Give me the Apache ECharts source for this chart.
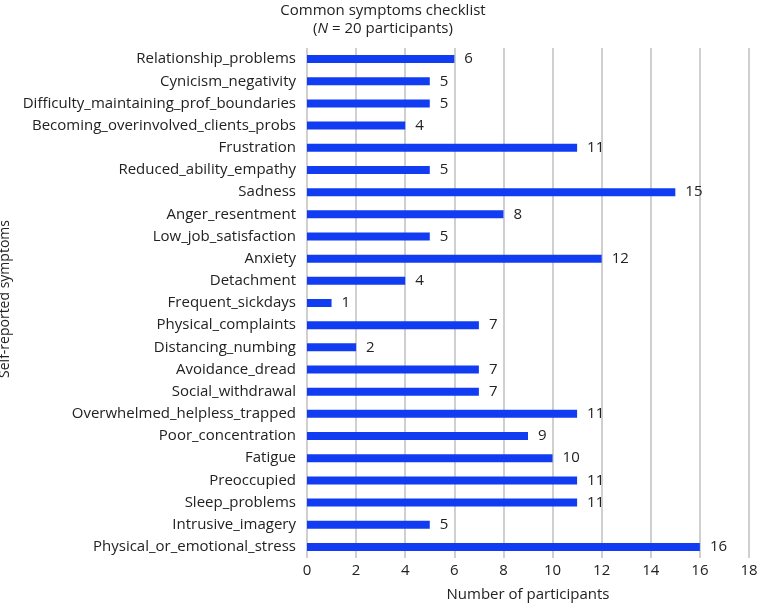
<!DOCTYPE html>
<html><head><meta charset="utf-8">
<script src="https://cdn.jsdelivr.net/npm/echarts@6/dist/echarts.min.js"></script>
<style>html,body{margin:0;padding:0;background:#fff}#c{width:758px;height:606px}</style>
</head><body><div id="c"></div>
<script>
const categories = ["Physical_or_emotional_stress","Intrusive_imagery","Sleep_problems","Preoccupied","Fatigue","Poor_concentration","Overwhelmed_helpless_trapped","Social_withdrawal","Avoidance_dread","Distancing_numbing","Physical_complaints","Frequent_sickdays","Detachment","Anxiety","Low_job_satisfaction","Anger_resentment","Sadness","Reduced_ability_empathy","Frustration","Becoming_overinvolved_clients_probs","Difficulty_maintaining_prof_boundaries","Cynicism_negativity","Relationship_problems"];
const values = [16,5,11,11,10,9,11,7,7,2,7,1,4,12,5,8,15,5,11,4,5,5,6];
const xTicks = [0,2,4,6,8,10,12,14,16,18];

const font = "'Open Sans', sans-serif";
const txt = '#222';
const chart = echarts.init(document.getElementById('c'));
chart.setOption({
  animation:false,
  title:{text:'Common symptoms checklist\n({N|N} = 20 participants)', left:378, top:-3, textAlign:'center',
    textStyle:{fontFamily:font,fontSize:15,fontWeight:'normal',color:txt,lineHeight:18,
      rich:{N:{fontFamily:font,fontSize:15,fontStyle:'italic',color:txt}}}},
  grid:{left:307,right:9,top:48,bottom:48,containLabel:false,outerBoundsMode:'none'},
  xAxis:{type:'value',min:0,max:18,interval:2,
    name:'Number of participants',nameLocation:'middle',nameGap:29,
    nameTextStyle:{fontFamily:font,fontSize:15,color:txt},
    axisLine:{show:false},axisTick:{show:false},
    axisLabel:{fontFamily:font,fontSize:15,color:txt,margin:5},
    splitLine:{show:true,lineStyle:{color:'#c4c4c4',width:1.6}}},
  yAxis:{type:'category',data:categories,
    name:'Self-reported symptoms',nameLocation:'middle',nameGap:287,nameRotate:90,
    nameTextStyle:{fontFamily:font,fontSize:14,color:txt,padding:[0,0,0,8]},
    axisLine:{show:false},axisTick:{show:false},
    axisLabel:{fontFamily:font,fontSize:15,color:txt,margin:11}},
  series:[{type:'bar',data:values,barWidth:8,
    itemStyle:{color:'#113cf2'},
    label:{show:true,position:'right',distance:10,fontFamily:font,fontSize:15,color:txt}}]
});
</script></body></html>
